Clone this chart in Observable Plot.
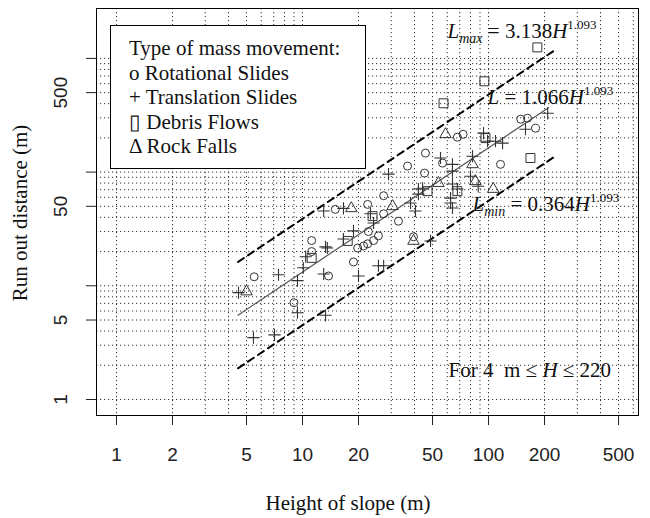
<!DOCTYPE html>
<html><head><meta charset="utf-8">
<script src="https://cdn.jsdelivr.net/npm/d3@7"></script>
<script src="https://cdn.jsdelivr.net/npm/@observablehq/plot@0.6"></script>
<style>body{margin:0;background:#fff} svg{display:block}</style>
</head><body><div id="chart"></div>
<script>
// Rotational slides (o)
const rotH = [5.5, 9.0, 11.2, 11.2, 13.8, 15.0, 22.4, 27.3, 27.3, 22.6, 25.6, 24.1, 22.4, 21.3, 19.8, 18.8, 36.7, 45.8, 45.3, 32.8, 39.5, 68, 73, 56.6, 116, 149, 162, 179];
const rotL = [12.0, 7.1, 25, 20, 12.2, 47, 52, 62, 43, 30, 27.5, 25, 23.4, 22.4, 21.5, 16.2, 113, 147, 98, 37, 27, 203, 215, 120, 117, 292, 298, 243];
// Translation slides (+)
const traH = [4.53, 5.45, 7.07, 7.43, 9.4, 10.1, 9.4, 13.3, 10.4, 13.0, 13.3, 13.0, 16.6, 23.2, 24.1, 18.8, 16.6, 13.6, 20, 25.6, 27.3, 29, 42, 42, 38.1, 40.5, 48.8, 94, 98.8, 109, 119, 55.2, 64, 82, 44.2, 64, 64, 68, 80, 88, 62.5, 62.5, 64, 158, 208];
const traL = [8.7, 3.5, 3.7, 12.5, 11.1, 14.4, 5.8, 22, 18, 12.7, 5.5, 45.5, 48, 43, 35.7, 30.4, 25.8, 21.5, 12.2, 15, 15, 96, 71, 64, 53.5, 45.5, 24.8, 220, 187, 187, 180, 133, 117, 138, 72, 102, 78.5, 71, 92, 75, 59, 53.5, 48.3, 238, 329];
// Debris flows (square)
const debH = [183, 95, 57.3, 96.3, 168, 47, 68, 23.8, 17.5, 11.2];
const debL = [1250, 629, 403, 199, 133, 68, 68, 41, 24.8, 17.6];
// Rock falls (triangle)
const rocH = [5.0, 18.3, 30.5, 39.5, 58.7, 82, 53.8, 85, 106];
const rocL = [8.9, 48, 50, 24.8, 215, 117, 80, 83, 71];

// Fitted lines (end points)
const fitH = [4.5, 210], fitL = [5.52, 368];
const maxH = [4.5, 230], maxL = [16.2, 1197];
const minH = [4.5, 230], minL = [1.88, 139];

// Axes
const xTicks = [1, 2, 5, 10, 20, 50, 100, 200, 500];
const yTicks = [1, 5, 10, 50, 100, 500, 1000];
const yTickLabels = [1, 5, 50, 500];
const gridX = [1,2,3,4,5,6,7,8,9,10,20,30,40,50,60,70,80,90,100,200,300,400,500,600];
const gridY = [1,2,3,4,5,6,7,8,9,10,20,30,40,50,60,70,80,90,100,200,300,400,500,600,700,800,900,1000];

const legendLines = ["Type of mass movement:", "o Rotational Slides", "+ Translation Slides", "\u25AF Debris Flows", "\u0394 Rock Falls"];

// Annotations (position in data units, text)
const annotations = [
  {H: 60.2, L: 1726, t: "Lmax = 3.138H1.093"},
  {H: 98.8, L: 455, t: "L = 1.066H1.093"},
  {H: 82, L: 52.4, t: "Lmin = 0.364H1.093"},
  {H: 61, L: 1.8, t: "For 4  m \u2264 H \u2264 220"}
];
const rich = {
  "Lmax = 3.138H1.093": [["L","i"],["max","sub"],[" = 3.138","n"],["H","i"],["1.093","sup"]],
  "L = 1.066H1.093": [["L","i"],[" = 1.066","n"],["H","i"],["1.093","sup"]],
  "Lmin = 0.364H1.093": [["L","i"],["min","sub"],[" = 0.364","n"],["H","i"],["1.093","sup"]],
  "For 4  m \u2264 H \u2264 220": [["For 4\u00A0 m \u2264 ","n"],["H","i"],[" \u2264 220","n"]]
};

const zip = (hs, ls) => hs.map((h, i) => ({H: h, L: ls[i]}));
const serif = "'Liberation Serif', 'Times New Roman', serif";
const sans = "'Liberation Sans', Arial, sans-serif";
const ink = "#333";

const plot = Plot.plot({
  width: 650, height: 518,
  marginLeft: 96, marginRight: 12, marginTop: 8, marginBottom: 103,
  style: {fontFamily: sans, fontSize: "19px", background: "white", color: "#222", overflow: "visible"},
  x: {type: "log", domain: [0.781, 640], axis: null},
  y: {type: "log", domain: [0.723, 2748], axis: null},
  marks: [
    Plot.ruleX(gridX, {stroke: "#333", strokeWidth: 1, strokeDasharray: "1.2,2.8"}),
    Plot.ruleY(gridY, {stroke: "#333", strokeWidth: 1, strokeDasharray: "1.2,2.8"}),
    // axis ticks (outside the frame)
    Plot.ruleX(xTicks, {stroke: "#222", strokeWidth: 1, insetTop: 407, insetBottom: -10}),
    Plot.ruleY(yTicks, {stroke: "#222", strokeWidth: 1, insetLeft: -10, insetRight: 542}),
    Plot.text(xTicks, {x: d => d, text: d => String(d), frameAnchor: "bottom", lineAnchor: "top", dy: 32, fontSize: 19, fill: "#222", textAnchor: "middle"}),
    Plot.text(yTickLabels, {y: d => d, text: d => String(d), frameAnchor: "left", dx: -36, rotate: -90, textAnchor: "middle", lineAnchor: "middle", fontSize: 19, fill: "#222"}),
    Plot.line(zip(fitH, fitL), {x: "H", y: "L", stroke: "#555", strokeWidth: 1.2}),
    Plot.line(zip(maxH, maxL), {x: "H", y: "L", stroke: "black", strokeWidth: 2, strokeDasharray: "7,5"}),
    Plot.line(zip(minH, minL), {x: "H", y: "L", stroke: "black", strokeWidth: 2, strokeDasharray: "7,5"}),
    Plot.dot(zip(rotH, rotL), {x: "H", y: "L", symbol: "circle", r: 4, stroke: ink, fill: "none", strokeWidth: 1}),
    Plot.dot(zip(traH, traL), {x: "H", y: "L", symbol: "plus", r: 4, stroke: ink, fill: "none", strokeWidth: 1.1}),
    Plot.dot(zip(debH, debL), {x: "H", y: "L", symbol: "square2", r: 5.7, stroke: ink, fill: "none", strokeWidth: 1}),
    Plot.dot(zip(rocH, rocL), {x: "H", y: "L", symbol: "triangle2", r: 5.5, stroke: ink, fill: "none", strokeWidth: 1}),
    Plot.text(annotations, {x: "H", y: "L", text: "t", textAnchor: "start", lineAnchor: "middle", fontFamily: serif, fontSize: 21, fill: "#111"}),
    Plot.frame({stroke: "black", strokeWidth: 1})
  ]
});

const svg = d3.select(plot);
// rich text for annotations
svg.selectAll("text").each(function() {
  const key = this.textContent;
  const segs = rich[key];
  if (!segs) return;
  const t = d3.select(this);
  t.text(null);
  let shift = 0;
  for (const [s, k] of segs) {
    const ts = t.append("tspan").text(s);
    let target = 0;
    if (k === "i") ts.attr("font-style", "italic");
    if (k === "sub") { ts.attr("font-style", "italic").attr("font-size", 14); target = 5; }
    if (k === "sup") { ts.attr("font-size", 13); target = -9; }
    if (target !== shift) { ts.attr("dy", target - shift); shift = target; }
  }
});

// legend box
const lg = svg.append("g").attr("text-anchor", "start");
lg.append("rect").attr("x", 110.5).attr("y", 25.5).attr("width", 255).attr("height", 143)
  .attr("fill", "white").attr("stroke", "black").attr("stroke-width", 1);
legendLines.forEach((s, i) => {
  lg.append("text").attr("x", 129).attr("y", 55 + i * 24.6).attr("text-anchor", "start").text(s)
    .attr("font-family", serif).attr("font-size", 21).attr("fill", "#111");
});

// axis titles
svg.append("text").attr("x", 348).attr("y", 510).attr("text-anchor", "middle")
  .attr("font-family", serif).attr("font-size", 21).attr("fill", "#111").text("Height of slope (m)");
svg.append("text").attr("transform", "translate(27,213) rotate(-90)").attr("text-anchor", "middle")
  .attr("font-family", serif).attr("font-size", 21).attr("fill", "#111").text("Run out distance (m)");

document.getElementById("chart").appendChild(plot);
</script>
</body></html>
